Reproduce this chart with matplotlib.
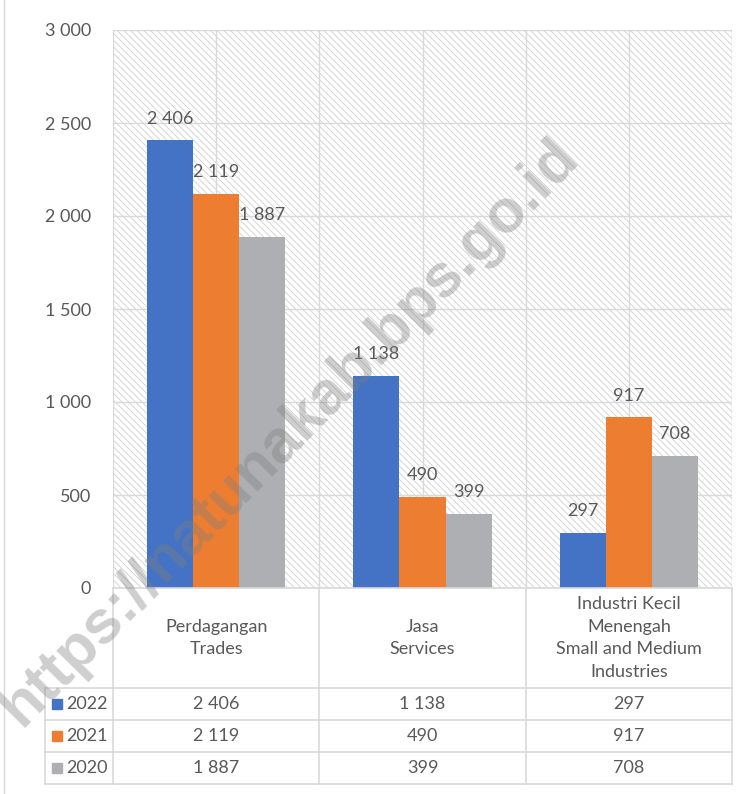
import numpy as np
import matplotlib
matplotlib.use("Agg")
import matplotlib.pyplot as plt
from matplotlib.patches import Rectangle

# --------------------------------
# DATA
# --------------------------------
categories = ["Perdagangan\nTrades", "Jasa\nServices",
              "Industri Kecil\nMenengah\nSmall and Medium\nIndustries"]
years = ["2022", "2021", "2020"]
values_2022 = [2406, 1138, 297]
values_2021 = [2119, 490, 917]
values_2020 = [1887, 399, 708]
y_ticks = [0, 500, 1000, 1500, 2000, 2500, 3000]

series = [values_2022, values_2021, values_2020]
colours = ["#4472C4", "#ED7D31", "#AEAFB3"]

# --------------------------------
# STYLE
# --------------------------------
plt.rcParams.update({
    "font.family": ["Lato", "DejaVu Sans"],
    "font.size": 13,
    "hatch.linewidth": 0.6,
})
TEXT_COL = "#595959"
GRID_COL = "#D9D9D9"
FS = 13
W, H = 750, 794


def fmt(v):
    return f"{v:,}".replace(",", " ")


def fx(px):
    return px / W


def fy(py):
    return 1 - py / H


fig = plt.figure(figsize=(W / 100, H / 100), dpi=100)
fig.patch.set_facecolor("white")

# plot area
PL, PR, PT, PB = 113, 732, 30, 588
ax = fig.add_axes([fx(PL), fy(PB), fx(PR - PL), (PB - PT) / H])
ax.set_xlim(-0.5, len(categories) - 0.5)
ax.set_ylim(0, 3000)

ax.add_patch(Rectangle((0, 0), 1, 1, transform=ax.transAxes, facecolor="white",
                       edgecolor="#D0D0D0", hatch="\\\\\\\\\\", lw=0, zorder=0))

for t in y_ticks:
    ax.axhline(t, color=GRID_COL, lw=1.0, zorder=1)
for xv in np.arange(-0.5, len(categories), 0.5):
    ax.axvline(xv, color=GRID_COL, lw=1.0, zorder=1)

x = np.arange(len(categories))
bw = 0.223
for i, (vals, col) in enumerate(zip(series, colours)):
    xs = x + (i - 1) * bw
    bars = ax.bar(xs, vals, width=bw, color=col, zorder=2)
    for b, v in zip(bars, vals):
        ax.annotate(fmt(v), (b.get_x() + b.get_width() / 2, v),
                    xytext=(0, 10), textcoords="offset points",
                    ha="center", va="bottom", color=TEXT_COL, fontsize=FS, zorder=3)

ax.set_yticks(y_ticks)
ax.set_yticklabels([fmt(t) for t in y_ticks], color=TEXT_COL, fontsize=FS)
ax.tick_params(axis="y", length=0, pad=16)
ax.set_xticks([])
for s in ax.spines.values():
    s.set_visible(False)

# --------------------------------
# DATA TABLE
# --------------------------------
TL = 45
HEAD_B = 688
ROW_H = 32
TB = HEAD_B + ROW_H * len(years)
col_w = (PR - PL) / len(categories)
line_kw = dict(color=GRID_COL, lw=1.2)

fig.add_artist(plt.Line2D([fx(PL), fx(PR)], [fy(PB), fy(PB)], **line_kw))
for r in range(len(years) + 1):
    yy = HEAD_B + r * ROW_H
    fig.add_artist(plt.Line2D([fx(TL), fx(PR)], [fy(yy), fy(yy)], **line_kw))
fig.add_artist(plt.Line2D([fx(TL), fx(TL)], [fy(HEAD_B), fy(TB)], **line_kw))
for c in range(len(categories) + 1):
    xx = PL + c * col_w
    fig.add_artist(plt.Line2D([fx(xx), fx(xx)], [fy(PB), fy(TB)], **line_kw))

for c, cat in enumerate(categories):
    cx = PL + (c + 0.5) * col_w
    fig.text(fx(cx), fy((PB + HEAD_B) / 2), cat, ha="center", va="center",
             color=TEXT_COL, fontsize=FS, linespacing=1.5)

for r, (yr, vals, col) in enumerate(zip(years, series, colours)):
    cy = HEAD_B + (r + 0.5) * ROW_H
    fig.add_artist(Rectangle((fx(52), fy(cy + 5)), fx(10), 10 / H, color=col,
                             transform=fig.transFigure))
    fig.text(fx(66), fy(cy), yr, ha="left", va="center", color=TEXT_COL, fontsize=FS)
    for c, v in enumerate(vals):
        cx = PL + (c + 0.5) * col_w
        fig.text(fx(cx), fy(cy), fmt(v), ha="center", va="center",
                 color=TEXT_COL, fontsize=FS)

# outer chart border (left edge visible)
fig.add_artist(plt.Line2D([fx(3.5), fx(3.5)], [0, 1], color=GRID_COL, lw=1.0))

# watermark
fig.text(fx(290), fy(432), "https://natunakab.bps.go.id", rotation=45.5,
         rotation_mode="anchor", ha="center", va="center",
         fontsize=44, fontweight="bold", family="Liberation Sans",
         color="#808080", alpha=0.38, zorder=10)

fig.savefig("out.png", dpi=100, facecolor="white")
